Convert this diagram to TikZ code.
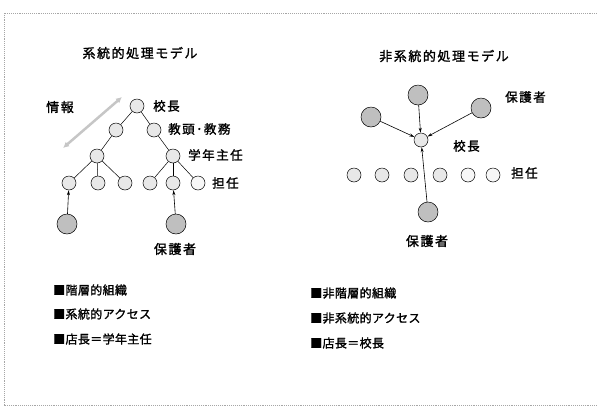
\documentclass[tikz,border=0pt]{standalone}
\usepackage{fontspec}
\newfontfamily\jp{Noto Sans CJK JP}[FakeBold=1.5,LetterSpace=12]
\newfontfamily\jpb{Noto Sans CJK JP}[FakeBold=1.5,LetterSpace=3]
\usetikzlibrary{arrows.meta}
\begin{document}
\begin{tikzpicture}[x=1pt,y=-1pt,
  frame/.style={draw=gray!70,densely dotted,line width=0.9pt},
  small/.style={circle,draw=black,line width=0.5pt,fill=gray!18,minimum size=14pt,inner sep=0pt},
  smallw/.style={small,fill=gray!6},
  parent/.style={circle,draw=black,line width=0.5pt,fill=gray!50,minimum size=20pt,inner sep=0pt},
  lbl/.style={font=\jp\fontsize{12.5}{14}\selectfont,anchor=west,inner sep=0pt},
  ttl/.style={font=\jp\fontsize{13}{15}\selectfont,inner sep=0pt},
  bul/.style={font=\jpb\fontsize{12}{14}\selectfont,anchor=west,inner sep=0pt},
  edge/.style={line width=0.5pt},
  arr/.style={line width=0.6pt,-{Stealth[length=5pt,width=3pt]}}
]
\useasboundingbox (0,0) rectangle (597,416);
\draw[frame] (597,13) -- (4,13) -- (4,405) -- (597,405);

% ---------- left model ----------
\node[ttl] (t1) at (140,53) {系統的処理モデル};
\node[small] (k) at (137,106) {};
\node[small] (a1) at (116,130) {};
\node[small] (a2) at (154,130) {};
\node[small] (b1) at (97,156) {};
\node[small] (b2) at (173,156) {};
\node[small] (c1) at (69,183) {};
\node[small] (c2) at (98,183) {};
\node[small] (c3) at (125,183) {};
\node[small] (c4) at (150,183) {};
\node[small] (c5) at (173,183) {};
\node[smallw] (c6) at (198,183) {};
\node[parent] (p1) at (67,224) {};
\node[parent] (p2) at (176,224) {};
\draw[edge] (k) -- (a1); \draw[edge] (k) -- (a2);
\draw[edge] (a1) -- (b1); \draw[edge] (a2) -- (b2);
\draw[edge] (b1) -- (c1); \draw[edge] (b1) -- (c2); \draw[edge] (b1) -- (c3);
\draw[edge] (b2) -- (c4); \draw[edge] (b2) -- (c5); \draw[edge] (b2) -- (c6);
\draw[arr] (p1) -- (c1);
\draw[arr] (p2) -- (c5);
\node[lbl] (lk) at (153,106) {校長};
\node[lbl] (la) at (168,129) {教頭･教務};
\node[lbl] (lb) at (188,155) {学年主任};
\node[lbl] (lc) at (212,183) {担任};
\node[ttl] (lp) at (175,249) {保護者};
\node[ttl] (li) at (60,107) {情報};
\coordinate (i1) at (63,148);
\coordinate (i2) at (122,97);
\draw[gray!45,line width=2.5pt,{Latex[length=6pt,width=6pt]}-{Latex[length=6pt,width=6pt]}] (i1) -- (i2);

\node[bul] (bl1) at (53,290) {■階層的組織};
\node[bul] (bl2) at (53,314) {■系統的アクセス};
\node[bul] (bl3) at (53,339) {■店長＝学年主任};

% ---------- right model ----------
\node[ttl] (t2) at (444,56) {非系統的処理モデル};
\node[small] (rk) at (421,140) {};
\node[parent] (q1) at (418,95) {};
\node[parent] (q2) at (371,117) {};
\node[parent] (q3) at (481,108) {};
\node[parent] (q4) at (428,212) {};
\node[small] (d1) at (354,175) {};
\node[small] (d2) at (382,175) {};
\node[small] (d3) at (411,175) {};
\node[small] (d4) at (440,175) {};
\node[smallw] (d5) at (468,175) {};
\node[smallw] (d6) at (493,175) {};
\draw[arr] (q1) -- (rk);
\draw[arr] (q2) -- (rk);
\draw[arr] (q3) -- (rk);
\draw[arr] (q4) -- (rk);
\node[lbl] (rlk) at (453,146) {校長};
\node[lbl] (rlp) at (505,97) {保護者};
\node[lbl] (rlc) at (511,173) {担任};
\node[ttl] (rlp2) at (427,241) {保護者};

\node[bul] (br1) at (310,293) {■非階層的組織};
\node[bul] (br2) at (310,318) {■非系統的アクセス};
\node[bul] (br3) at (310,343) {■店長＝校長};
\end{tikzpicture}
\end{document}
